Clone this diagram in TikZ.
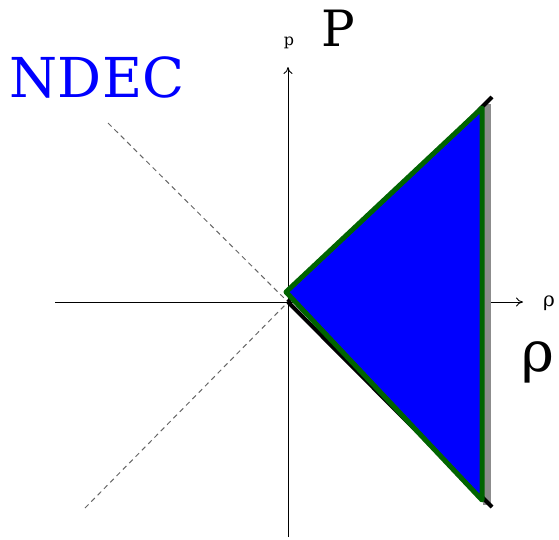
\documentclass[tikz,border=0pt]{standalone}
\usepackage{fontspec}
\newfontfamily\tms{DejaVu Serif}
\usetikzlibrary{arrows.meta}
\definecolor{bandgray}{RGB}{140,140,140}
\definecolor{edgegreen}{RGB}{0,100,0}
\begin{document}
\begin{tikzpicture}[x=1pt,y=-1pt,
  axis/.style={line width=0.9pt,black,-{To[length=7pt,width=9pt]}},
  diag/.style={gray!80!black,line width=1pt,dash pattern=on 5pt off 4pt},
  lbl/.style={inner sep=0pt,anchor=center}]
\useasboundingbox (0,0) rectangle (559,539);
\coordinate (O) at (288,302);
% dashed diagonals
\draw[diag] (108,123) -- (O);
\draw[diag] (85,508) -- (O);
% axes
\draw[axis] (55,302) -- (523,302);
\draw[axis] (288,537) -- (288,67);
% gray band
\fill[bandgray] (483,104) rectangle (491,505);
% black edges
\draw[line width=4pt,black] (O) -- (492,97);
\draw[line width=4pt,black] (O) -- (492,507);
% triangle
\draw[line width=5pt,edgegreen,fill=blue,line join=round] (286,292) -- (482,108) -- (482,500) -- cycle;
% labels
\node[lbl,font=\tms\fontsize{16}{16}\selectfont] (p) at (289,43) {p};
\node[lbl,font=\tms\fontsize{50}{50}\selectfont] (P) at (338,28) {P};
\node[lbl,font=\tms\fontsize{20}{20}\selectfont] (r) at (549,303) {ρ};
\node[lbl,font=\tms\fontsize{56}{56}\selectfont] (R) at (538,362) {ρ};
\node[lbl,blue,font=\tms\fontsize{55}{55}\selectfont] (N) at (97,77) {NDEC};
\end{tikzpicture}
\end{document}
